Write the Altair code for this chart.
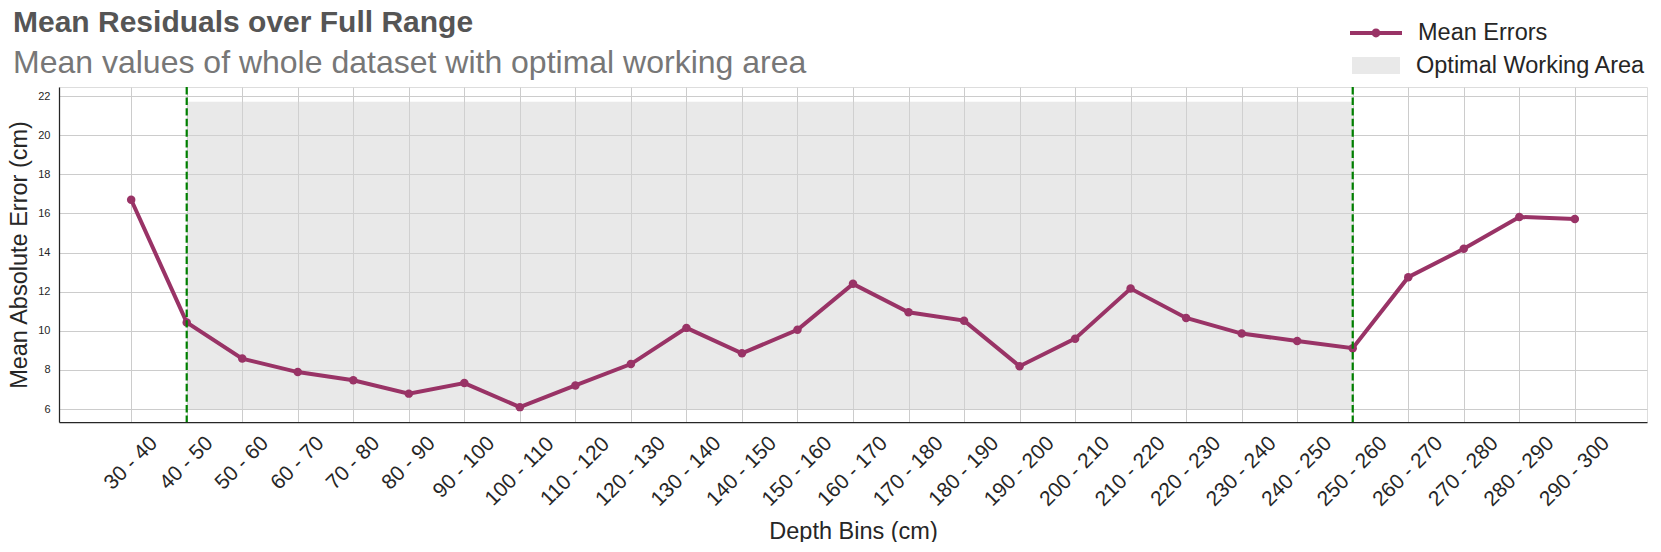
import altair as alt
import pandas as pd

# ---------------- data ----------------
BINS = [
    "30 - 40", "40 - 50", "50 - 60", "60 - 70", "70 - 80", "80 - 90",
    "90 - 100", "100 - 110", "110 - 120", "120 - 130", "130 - 140",
    "140 - 150", "150 - 160", "160 - 170", "170 - 180", "180 - 190",
    "190 - 200", "200 - 210", "210 - 220", "220 - 230", "230 - 240",
    "240 - 250", "250 - 260", "260 - 270", "270 - 280", "280 - 290",
    "290 - 300",
]
MEAN_ERRORS = [
    16.70, 10.43, 8.58, 7.89, 7.47, 6.79, 7.33, 6.10, 7.21, 8.30, 10.15,
    8.85, 10.05, 12.40, 10.95, 10.52, 8.19, 9.60, 12.16, 10.66, 9.86,
    9.48, 9.11, 12.74, 14.19, 15.82, 15.71,
]
SERIES_NAME = ["Mean Errors"]
AREA_NAME = ["Optimal Working Area"]
AREA_START = ["40 - 50"]
AREA_END = ["250 - 260"]
AREA_LOW = [6.0]
AREA_HIGH = [21.7]
BOUNDARIES = ["40 - 50", "250 - 260"]
Y_TICKS = [6, 8, 10, 12, 14, 16, 18, 20, 22]
Y_DOMAIN = [5.34, 22.46]

TITLE = "Mean Residuals over Full Range"
SUBTITLE = "Mean values of whole dataset with optimal working area"
X_TITLE = "Depth Bins (cm)"
Y_TITLE = "Mean Absolute Error (cm)"

# ---------------- styles ----------------
FONT = "Liberation Sans"
LINE_COLOR = "#993366"
TEXT_COLOR = "#262626"
GRID_COLOR = "#cccccc"
W, H = 1588, 335
XLAB_SIZE = 21
XLAB_GAP = 13                       # gap between axis line and top of rotated labels
X_MARGIN = 1.3                      # empty space beyond first/last bin, in bin steps

pos = {b: i for i, b in enumerate(BINS)}   # category order -> position on the axis

line_df = pd.DataFrame({"bin": BINS, "pos": [pos[b] for b in BINS],
                        "err": MEAN_ERRORS, "series": SERIES_NAME * len(BINS)})
area_df = pd.DataFrame({"start": [pos[b] for b in AREA_START],
                        "end": [pos[b] for b in AREA_END],
                        "low": AREA_LOW, "high": AREA_HIGH, "area": AREA_NAME})
bound_df = pd.DataFrame({"pos": [pos[b] for b in BOUNDARIES]})
label_df = pd.DataFrame({"bin": BINS, "pos": [pos[b] for b in BINS],
                         "n": [len(b) for b in BINS]})

x_scale = alt.Scale(domain=[-X_MARGIN, len(BINS) - 1 + X_MARGIN], nice=False, zero=False)
y_scale = alt.Scale(domain=Y_DOMAIN, nice=False, zero=False)

x_axis = alt.Axis(
    title=X_TITLE, values=list(range(len(BINS))), titleFontSize=23.5,
    titleFontWeight="normal", titleColor=TEXT_COLOR, titleFont=FONT,
    titleY=116, titleX=W / 2, titleBaseline="alphabetic", titleAlign="center",
    labels=False,
    ticks=False, tickSize=0, domainColor=TEXT_COLOR, domainWidth=1.25,
    grid=True, gridColor=GRID_COLOR, gridWidth=1,
)
y_axis = alt.Axis(
    title=Y_TITLE, values=Y_TICKS, titleFontSize=23.5, titleFontWeight="normal",
    titleColor=TEXT_COLOR, titleFont=FONT, titleX=-33, titleY=H / 2,
    titleBaseline="alphabetic", titleAlign="center", titleAngle=270,
    labelFontSize=11, labelFont=FONT, labelColor=TEXT_COLOR, labelPadding=9,
    ticks=False, tickSize=0, domainColor=TEXT_COLOR, domainWidth=1.25,
    grid=True, gridColor=GRID_COLOR, gridWidth=1,
)

LINE_SYMBOL = ("M-1,-0.077L1,-0.077L1,0.077L-1,0.077Z "
               "M0.17,0A0.17,0.17,0,1,1,-0.17,0A0.17,0.17,0,1,1,0.17,0Z")
BOX_SYMBOL = "M-1,-0.354L1,-0.354L1,0.354L-1,0.354Z"

area = alt.Chart(area_df).mark_rect(color="#d3d3d3", opacity=0.5).encode(
    x=alt.X("start:Q", scale=x_scale, axis=x_axis, title=X_TITLE),
    x2="end:Q",
    y=alt.Y("low:Q", scale=y_scale, axis=y_axis, title=Y_TITLE),
    y2="high:Q",
    fill=alt.Fill("area:N", scale=alt.Scale(domain=AREA_NAME, range=["#d3d3d3"]),
                  legend=alt.Legend(
                      title=None, orient="none", legendX=1293, legendY=-45.5,
                      symbolType=BOX_SYMBOL, symbolSize=2304, symbolOpacity=0.5,
                      symbolStrokeWidth=0, labelFontSize=23.5, labelFont=FONT,
                      labelColor=TEXT_COLOR, labelOffset=16, labelLimit=0,
                      padding=0)),
)

line = alt.Chart(line_df).mark_line(color=LINE_COLOR, strokeWidth=4).encode(
    x=alt.X("pos:Q", scale=x_scale, axis=x_axis, title=X_TITLE),
    y=alt.Y("err:Q", scale=y_scale, axis=y_axis, title=Y_TITLE),
)

points = alt.Chart(line_df).mark_point(filled=True, size=72, opacity=1).encode(
    x=alt.X("pos:Q", scale=x_scale, axis=x_axis, title=X_TITLE),
    y=alt.Y("err:Q", scale=y_scale, axis=y_axis, title=Y_TITLE),
    color=alt.Color("series:N", scale=alt.Scale(domain=SERIES_NAME, range=[LINE_COLOR]),
                    legend=alt.Legend(
                        title=None, orient="none", legendX=1291, legendY=-80,
                        symbolType=LINE_SYMBOL, symbolSize=2704,
                        symbolStrokeWidth=0, labelFontSize=23.5, labelFont=FONT,
                        labelColor=TEXT_COLOR, labelOffset=16, labelLimit=0,
                        padding=0)),
    tooltip=["bin:N", "err:Q"],
)

rules = alt.Chart(bound_df).mark_rule(color="#008000", strokeWidth=2.2,
                                     strokeDash=[7.4, 3.2]).encode(
    x=alt.X("pos:Q", scale=x_scale, axis=x_axis, title=X_TITLE),
)

# rotated tick labels: centred under each bin, tops of their boxes aligned,
# so the centre sits lower for longer labels
label_layers = []
for n in sorted(set(len(b) for b in BINS)):
    text_len = XLAB_SIZE * (0.556 * (n - 3) + 0.889)
    offset = XLAB_GAP + 0.354 * (text_len + 0.716 * XLAB_SIZE)
    label_layers.append(
        alt.Chart(label_df).transform_filter(f"datum.n == {n}").mark_text(
            angle=315, align="center", baseline="middle", fontSize=XLAB_SIZE,
            font=FONT, color=TEXT_COLOR).encode(
            x=alt.X("pos:Q", scale=x_scale, axis=x_axis, title=X_TITLE),
            y=alt.value(H + offset),
            text="bin:N",
        )
    )

chart = alt.layer(area, line, points, rules, *label_layers).properties(
    width=W, height=H,
    autosize=alt.AutoSizeParams(type="none"),
    padding={"left": 51, "top": 79, "right": 5, "bottom": 120},
    title=alt.TitleParams(
        text=TITLE, subtitle=SUBTITLE, anchor="start", frame="group",
        font=FONT, fontSize=30, fontWeight="bold", color="#555555",
        subtitleFont=FONT, subtitleFontSize=32, subtitleColor="#777777",
        subtitlePadding=10, offset=12, dx=-46, dy=84,
    ),
).configure_view(stroke=None).configure(font=FONT)

chart.save("out.html", embed_options={"renderer": "svg", "actions": False})
